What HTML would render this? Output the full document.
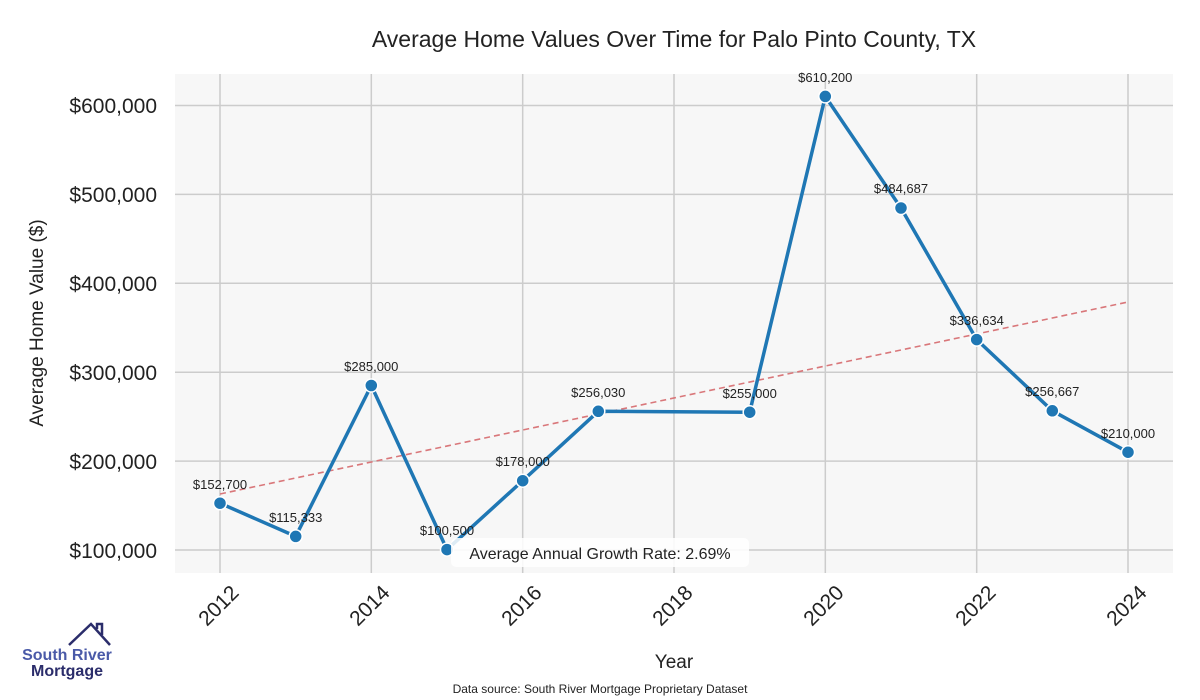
<!DOCTYPE html>
<html><head><meta charset="utf-8"><style>
html,body{margin:0;padding:0;background:#fff;}
svg{display:block;font-family:"Liberation Sans",sans-serif;}
</style></head><body>
<svg width="1200" height="700" viewBox="0 0 1200 700">
<rect x="175" y="74" width="998" height="499" fill="#f7f7f7"/>
<g stroke="#cccccc" stroke-width="1.5">
<line x1="220" y1="74" x2="220" y2="573"/><line x1="371.3" y1="74" x2="371.3" y2="573"/>
<line x1="522.7" y1="74" x2="522.7" y2="573"/><line x1="674" y1="74" x2="674" y2="573"/>
<line x1="825.3" y1="74" x2="825.3" y2="573"/><line x1="976.7" y1="74" x2="976.7" y2="573"/>
<line x1="1128" y1="74" x2="1128" y2="573"/>
<line x1="175" y1="105.5" x2="1173" y2="105.5"/><line x1="175" y1="194.4" x2="1173" y2="194.4"/>
<line x1="175" y1="283.3" x2="1173" y2="283.3"/><line x1="175" y1="372.2" x2="1173" y2="372.2"/>
<line x1="175" y1="461.1" x2="1173" y2="461.1"/><line x1="175" y1="550" x2="1173" y2="550"/>
</g>
<text x="674" y="47" font-size="23" text-anchor="middle" fill="#222">Average Home Values Over Time for Palo Pinto County, TX</text>
<g font-size="21" fill="#222" text-anchor="end">
<text x="157" y="113">$600,000</text><text x="157" y="202">$500,000</text>
<text x="157" y="291">$400,000</text><text x="157" y="380">$300,000</text>
<text x="157" y="469">$200,000</text><text x="157" y="558">$100,000</text>
</g>
<text transform="translate(43,323) rotate(-90)" font-size="19" text-anchor="middle" fill="#222">Average Home Value ($)</text>
<g font-size="21" fill="#222" text-anchor="end">
<text transform="translate(240,594) rotate(-45)">2012</text>
<text transform="translate(391,594) rotate(-45)">2014</text>
<text transform="translate(543,594) rotate(-45)">2016</text>
<text transform="translate(694,594) rotate(-45)">2018</text>
<text transform="translate(845,594) rotate(-45)">2020</text>
<text transform="translate(997,594) rotate(-45)">2022</text>
<text transform="translate(1148,594) rotate(-45)">2024</text>
</g>
<text x="674" y="668" font-size="19" text-anchor="middle" fill="#222">Year</text>
<text x="600" y="693" font-size="12" text-anchor="middle" fill="#222">Data source: South River Mortgage Proprietary Dataset</text>
<line x1="220" y1="494" x2="1128" y2="302" stroke="#d9777a" stroke-width="1.6" stroke-dasharray="6,4"/>
<polyline fill="none" stroke="#1f77b4" stroke-width="3.5" stroke-linejoin="round" points="220,503.2 295.7,536.4 371.3,385.5 447,549.6 522.7,480.7 598.3,411.3 749.7,412.2 825.3,96.4 901,208 976.7,339.6 1052.3,410.8 1128,452.2"/>
<g fill="#1f77b4" stroke="#fff" stroke-width="1.5">
<circle cx="220" cy="503.2" r="6.5"/><circle cx="295.7" cy="536.4" r="6.5"/><circle cx="371.3" cy="385.5" r="6.5"/>
<circle cx="447" cy="549.6" r="6.5"/><circle cx="522.7" cy="480.7" r="6.5"/><circle cx="598.3" cy="411.3" r="6.5"/>
<circle cx="749.7" cy="412.2" r="6.5"/><circle cx="825.3" cy="96.4" r="6.5"/><circle cx="901" cy="208" r="6.5"/>
<circle cx="976.7" cy="339.6" r="6.5"/><circle cx="1052.3" cy="410.8" r="6.5"/><circle cx="1128" cy="452.2" r="6.5"/>
</g>
<g font-size="13" fill="#222" text-anchor="middle">
<text x="220" y="489">$152,700</text><text x="295.7" y="522">$115,333</text><text x="371.3" y="371">$285,000</text>
<text x="447" y="535">$100,500</text><text x="522.7" y="466">$178,000</text><text x="598.3" y="397">$256,030</text>
<text x="749.7" y="398">$255,000</text><text x="825.3" y="82">$610,200</text><text x="901" y="193">$484,687</text>
<text x="976.7" y="325">$336,634</text><text x="1052.3" y="396">$256,667</text><text x="1128" y="438">$210,000</text>
</g>
<rect x="451" y="538" width="298" height="29" rx="5" fill="#fff" fill-opacity="0.85"/>
<text x="600" y="559" font-size="16" text-anchor="middle" fill="#222">Average Annual Growth Rate: 2.69%</text>
<polyline points="69,645 91,624 110,645" fill="none" stroke="#2b2d6b" stroke-width="2.5"/>
<polyline points="97,629 97,624 102,624 102,635" fill="none" stroke="#2b2d6b" stroke-width="2.5"/>
<text x="67" y="660" font-size="16" font-weight="bold" text-anchor="middle" fill="#4a5aa8">South River</text>
<text x="67" y="676" font-size="16" font-weight="bold" text-anchor="middle" fill="#2b2d6b">Mortgage</text>
</svg>
</body></html>
